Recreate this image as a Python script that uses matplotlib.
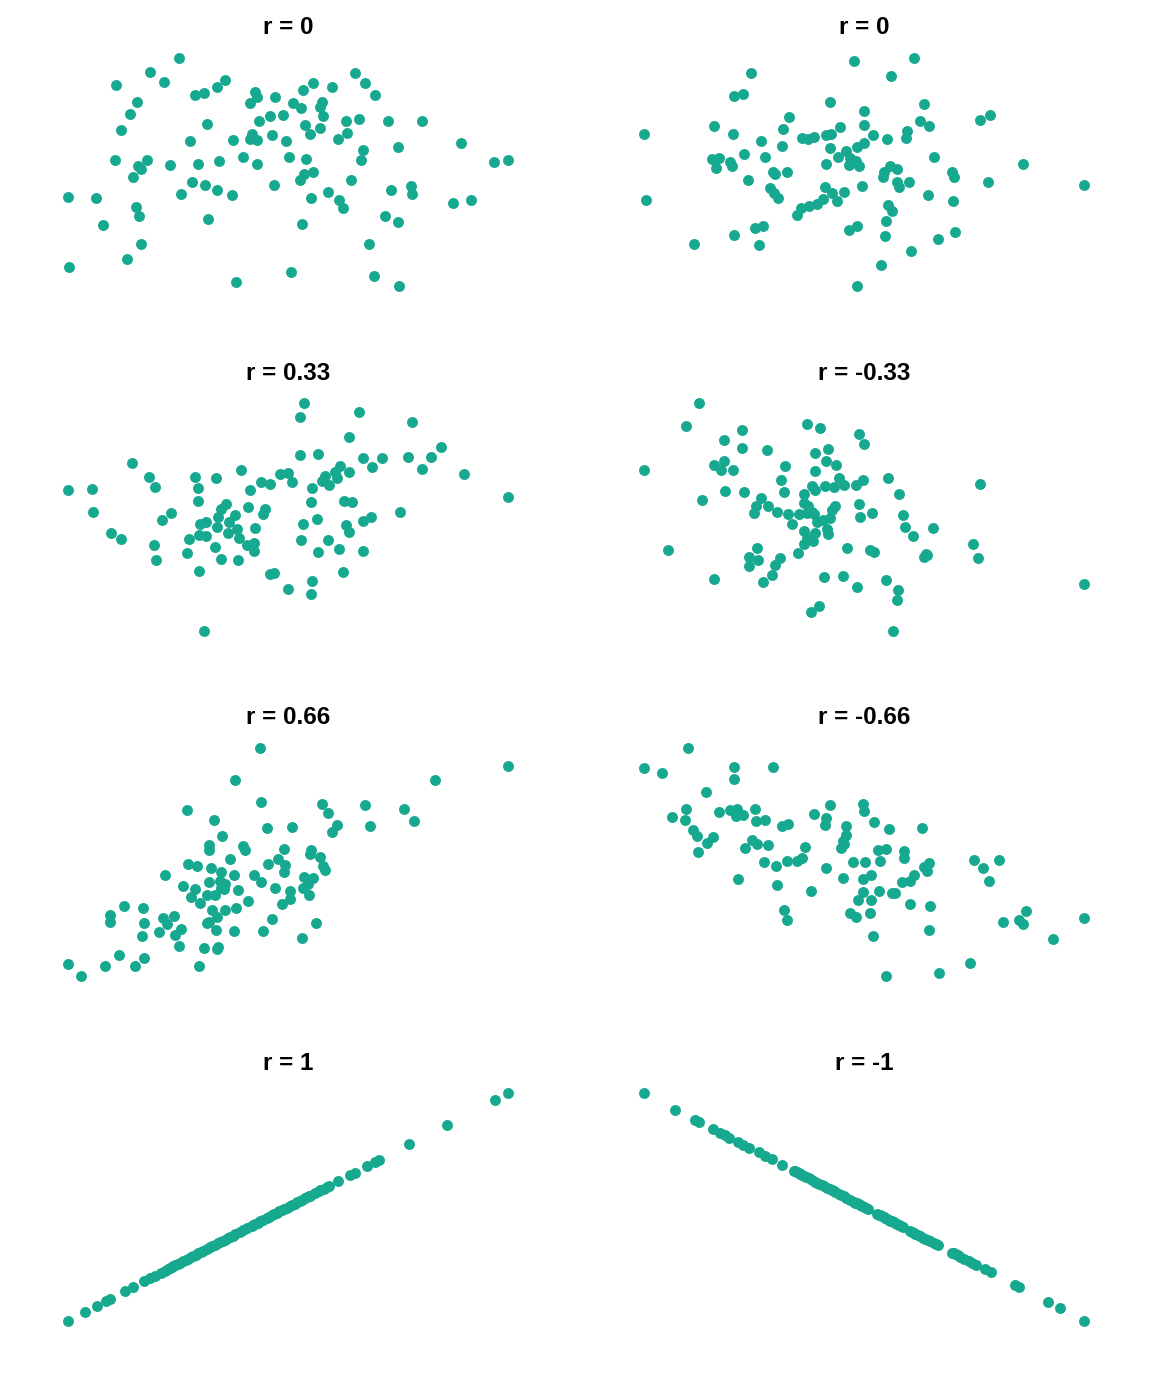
import matplotlib
matplotlib.use("Agg")
import matplotlib.pyplot as plt

plt.rcParams['font.family'] = ['Liberation Sans', 'DejaVu Sans']

point_color = '#17a98f'

titles = ['r = 0', 'r = 0', 'r = 0.33', 'r = -0.33',
          'r = 0.66', 'r = -0.66', 'r = 1', 'r = -1']

# values (screen units, y grows downward)
x_r0_a = [370, 284, 327, 183, 509, 485, 447, 419, 245, 224, 198, 455, 404, 533, 599, 605, 585, 658, 743, 774,
          831, 900, 929, 958, 712, 737, 801, 793, 803, 643, 684, 611, 748, 765, 795, 871, 910, 997, 1099, 874,
          849, 589, 585, 605, 651, 691, 1027, 1217, 923, 917, 1314, 1357, 181, 277, 249, 259, 234, 345, 429, 490,
          562, 604, 701, 753, 772, 745, 734, 887, 410, 448, 484, 531, 376, 655, 819, 767, 851, 864, 1006, 1065,
          1068, 1193, 1245, 39, 122, 243, 252, 143, 457, 740, 988, 1028, 258, 216, 42, 541, 707, 940, 956, 1030]
y_r0_a = [42, 82, 114, 122, 107, 127, 146, 152, 172, 207, 256, 237, 288, 285, 143, 158, 174, 156, 136, 116,
          126, 86, 115, 152, 176, 190, 172, 188, 213, 215, 210, 230, 240, 267, 250, 228, 223, 228, 230, 265,
          282, 268, 283, 285, 272, 290, 307, 293, 316, 344, 351, 346, 346, 344, 362, 372, 395, 359, 357, 348,
          335, 356, 337, 341, 380, 388, 405, 406, 412, 420, 436, 450, 447, 421, 441, 459, 466, 489, 434, 424,
          446, 473, 464, 456, 460, 484, 512, 539, 521, 536, 513, 530, 596, 642, 665, 710, 678, 597, 691, 720]

x_r0_b = [672, 851, 364, 781, 313, 340, 600, 880, 702, 475, 1049, 1078, 251, 458, 308, 42, 702, 630, 870, 897,
          829, 828, 771, 728, 702, 679, 586, 602, 515, 533, 550, 392, 455, 599, 343, 404, 245, 266, 258, 300,
          307, 647, 624, 660, 676, 686, 655, 587, 910, 1177, 428, 434, 471, 353, 779, 800, 762, 757, 799, 806,
          836, 964, 970, 1072, 1360, 694, 419, 430, 443, 584, 605, 641, 621, 578, 561, 537, 512, 500, 47, 894,
          969, 772, 784, 768, 681, 656, 399, 373, 311, 191, 385, 765, 974, 923, 841, 753, 679]
y_r0_b = [49, 42, 87, 95, 154, 148, 173, 178, 200, 216, 225, 212, 244, 253, 267, 268, 240, 247, 230, 245,
          259, 280, 282, 271, 294, 307, 270, 268, 280, 282, 278, 289, 302, 310, 327, 335, 343, 338, 368, 350,
          363, 318, 337, 340, 348, 363, 360, 358, 337, 358, 382, 386, 380, 406, 363, 372, 380, 397, 410, 427,
          410, 380, 396, 411, 421, 422, 428, 443, 460, 425, 443, 442, 469, 461, 475, 483, 487, 508, 466, 450,
          467, 478, 497, 527, 541, 554, 543, 549, 568, 597, 599, 571, 560, 581, 618, 658, 720]

x_r033 = [746, 733, 912, 1069, 880, 1157, 1126, 1058, 1099, 1224, 1357, 979, 922, 950, 734, 788, 557, 232, 282, 299,
          39, 110, 113, 168, 197, 420, 481, 429, 428, 584, 616, 643, 673, 698, 709, 771, 768, 810, 800, 820,
          838, 855, 845, 881, 866, 891, 1032, 347, 322, 513, 498, 488, 577, 628, 624, 538, 521, 484, 452, 434,
          518, 546, 550, 432, 452, 400, 598, 744, 786, 923, 946, 873, 881, 298, 303, 396, 479, 498, 549, 574,
          596, 597, 736, 818, 851, 787, 923, 432, 645, 656, 862, 771, 697, 768, 446]
y_r033 = [44, 84, 71, 101, 145, 173, 204, 204, 241, 254, 324, 206, 208, 234, 197, 194, 242, 223, 265, 293,
          303, 300, 369, 431, 450, 265, 268, 297, 336, 302, 280, 284, 255, 253, 279, 296, 338, 260, 277, 289,
          250, 230, 267, 249, 335, 337, 368, 370, 393, 343, 358, 382, 353, 360, 375, 376, 398, 414, 397, 405,
          430, 420, 447, 436, 441, 448, 415, 403, 390, 396, 382, 407, 427, 468, 510, 489, 472, 507, 512, 466,
          462, 485, 451, 453, 477, 487, 485, 545, 554, 550, 546, 573, 598, 613, 722]

x_rm033 = [207, 168, 336, 283, 335, 409, 529, 568, 685, 702, 553, 594, 588, 617, 555, 463, 452, 460, 252, 282,
           274, 310, 42, 285, 343, 217, 393, 376, 413, 372, 441, 473, 505, 486, 522, 520, 534, 545, 550, 530,
           546, 555, 585, 610, 626, 640, 678, 697, 774, 806, 1047, 685, 690, 726, 614, 605, 600, 577, 561, 589,
           593, 522, 553, 530, 549, 521, 504, 819, 825, 848, 908, 650, 718, 730, 886, 882, 891, 1028, 1042, 113,
           380, 356, 384, 357, 450, 435, 424, 398, 251, 580, 639, 681, 767, 802, 801, 567, 542, 1360, 788]
y_rm033 = [44, 113, 124, 154, 178, 183, 106, 117, 136, 165, 192, 180, 215, 227, 245, 232, 273, 309, 228, 215,
           242, 244, 243, 304, 308, 332, 325, 350, 351, 372, 369, 373, 373, 403, 314, 340, 350, 368, 375, 372,
           290, 302, 291, 293, 268, 288, 288, 272, 268, 315, 286, 343, 383, 371, 350, 363, 386, 392, 399, 420,
           434, 425, 430, 447, 455, 463, 490, 376, 414, 441, 416, 474, 481, 488, 493, 503, 497, 464, 506, 480,
           475, 502, 510, 528, 506, 527, 556, 578, 568, 561, 559, 593, 571, 602, 632, 648, 665, 583, 722]

x_r066 = [615, 1357, 539, 1137, 618, 394, 475, 799, 816, 928, 1045, 1076, 843, 828, 942, 634, 709, 499, 461, 461,
          564, 569, 685, 767, 762, 792, 801, 807, 523, 669, 690, 686, 637, 399, 424, 468, 497, 536, 330, 462,
          494, 510, 497, 506, 597, 616, 660, 745, 773, 758, 742, 759, 703, 703, 680, 549, 577, 383, 418, 408,
          434, 454, 478, 470, 510, 541, 207, 262, 165, 165, 266, 324, 357, 335, 376, 312, 359, 260, 454, 462,
          486, 483, 535, 622, 650, 782, 740, 371, 446, 487, 484, 190, 267, 38, 150, 239, 432, 76]
y_r066 = [45, 97, 140, 139, 205, 229, 260, 211, 239, 214, 227, 262, 275, 296, 277, 283, 279, 307, 335, 348,
          337, 349, 347, 348, 360, 371, 395, 409, 375, 376, 392, 413, 390, 391, 396, 401, 414, 423, 424, 444,
          440, 450, 462, 465, 424, 443, 462, 430, 432, 449, 462, 484, 471, 494, 510, 468, 501, 456, 464, 490,
          507, 484, 483, 528, 529, 522, 517, 521, 543, 563, 568, 551, 546, 571, 586, 595, 604, 605, 568, 565,
          548, 588, 591, 591, 556, 568, 612, 636, 642, 638, 643, 661, 672, 689, 694, 696, 694, 724]

x_rm066 = [174, 42, 96, 312, 313, 428, 229, 167, 127, 164, 266, 299, 320, 318, 340, 374, 378, 405, 189, 202,
           248, 230, 204, 367, 380, 412, 345, 402, 438, 469, 500, 516, 523, 455, 474, 550, 598, 588, 583, 699,
           702, 732, 648, 647, 638, 642, 633, 777, 875, 744, 767, 820, 820, 749, 669, 705, 586, 637, 699, 722,
           323, 440, 541, 698, 745, 683, 723, 784, 795, 814, 838, 852, 880, 897, 890, 839, 898, 1030, 1057, 1106,
           1075, 460, 470, 660, 676, 718, 728, 895, 1118, 1165, 1176, 1187, 1266, 1360, 1019, 927, 766]
y_rm066 = [45, 105, 118, 102, 135, 100, 174, 225, 251, 258, 235, 228, 225, 248, 244, 227, 262, 259, 289, 306,
           310, 328, 353, 317, 330, 334, 342, 383, 396, 382, 381, 373, 339, 276, 272, 240, 214, 254, 274, 212,
           233, 264, 276, 302, 320, 330, 342, 287, 284, 347, 344, 350, 371, 382, 384, 384, 403, 432, 436, 422,
           434, 454, 470, 474, 472, 498, 496, 476, 476, 443, 440, 423, 400, 387, 411, 508, 516, 379, 401, 379,
           442, 527, 558, 535, 549, 537, 604, 587, 564, 557, 568, 530, 615, 552, 685, 716, 723]

x_r1 = [40, 90, 126, 155, 165, 210, 235, 267, 285, 300, 318, 330, 340, 345, 350, 355, 360, 370, 375, 385,
        392, 400, 408, 415, 422, 430, 438, 445, 455, 465, 470, 480, 488, 495, 503, 510, 518, 525, 533, 540,
        555, 565, 575, 590, 595, 600, 608, 615, 625, 635, 643, 650, 658, 665, 673, 680, 688, 695, 703, 710,
        718, 725, 733, 740, 748, 755, 760, 765, 780, 790, 795, 805, 815, 820, 847, 885, 898, 935, 960, 972,
        1062, 1173, 1318, 1357]
y_r1 = [725, 699.3, 680.7, 665.8, 660.6, 637.5, 624.6, 608.1, 598.9, 591.2, 581.9, 575.7, 570.6, 568.0, 565.4,
        562.8, 560.3, 555.1, 552.5, 547.4, 543.8, 539.7, 535.6, 531.9, 528.3, 524.2, 520.1, 516.5, 511.4, 506.2,
        503.6, 498.5, 494.4, 490.8, 486.6, 483.0, 478.9, 475.3, 471.2, 467.6, 459.9, 454.7, 449.6, 441.9, 439.3,
        436.7, 432.6, 429.0, 423.8, 418.7, 414.6, 411.0, 406.9, 403.2, 399.1, 395.5, 391.4, 387.8, 383.7, 380.1,
        376.0, 372.4, 368.2, 364.6, 360.5, 356.9, 354.3, 351.8, 344.0, 338.9, 336.3, 331.2, 326.0, 323.5, 309.6,
        290.0, 283.3, 264.3, 251.4, 245.2, 198.9, 141.7, 67.1, 47]

x_rm1 = [42, 136, 196, 206, 250, 270, 285, 298, 325, 340, 356, 385, 405, 425, 455, 490, 495, 500, 505, 510,
         515, 520, 528, 535, 545, 555, 560, 565, 575, 582, 590, 598, 605, 610, 615, 625, 632, 640, 648, 660,
         670, 675, 680, 685, 690, 695, 700, 706, 712, 740, 745, 750, 755, 760, 765, 770, 775, 780, 785, 790,
         795, 800, 805, 812, 818, 840, 845, 850, 855, 862, 870, 878, 885, 892, 900, 910, 916, 922, 965, 970,
         975, 982, 990, 1000, 1015, 1025, 1035, 1062, 1080, 1152, 1165, 1251, 1289, 1360]
y_rm1 = [47, 95.4, 126.2, 131.4, 154.0, 164.3, 172.0, 178.7, 192.6, 200.3, 208.5, 223.4, 233.7, 244.0, 259.4,
         277.5, 280.0, 282.6, 285.2, 287.7, 290.3, 292.9, 297.0, 300.6, 305.7, 310.9, 313.5, 316.0, 321.2, 324.8,
         328.9, 333.0, 336.6, 339.2, 341.8, 346.9, 350.5, 354.6, 358.7, 364.9, 370.0, 372.6, 375.2, 377.8, 380.3,
         382.9, 385.5, 388.6, 391.6, 406.1, 408.6, 411.2, 413.8, 416.3, 418.9, 421.5, 424.1, 426.6, 429.2, 431.8,
         434.3, 436.9, 439.5, 443.1, 446.2, 457.5, 460.1, 462.6, 465.2, 468.8, 472.9, 477.0, 480.6, 484.2, 488.4,
         493.5, 496.6, 499.7, 521.8, 524.4, 526.9, 530.5, 534.7, 539.8, 547.5, 552.7, 557.8, 571.7, 581.0, 618.0,
         624.7, 668.9, 688.5, 725]

panels = [(x_r0_a, y_r0_a), (x_r0_b, y_r0_b), (x_r033, y_r033), (x_rm033, y_rm033),
          (x_r066, y_r066), (x_rm066, y_rm066), (x_r1, y_r1), (x_rm1, y_rm1)]

fig = plt.figure(figsize=(11.52, 13.82), dpi=100)
W, H = 1152, 1382

for i, ((xs, ys), title) in enumerate(zip(panels, titles)):
    row, col = divmod(i, 2)
    left = 46 if col == 0 else 622
    top = 47 + 345 * row
    ax = fig.add_axes([left / W, 1 - (top + 250) / H, 484 / W, 250 / H])
    ax.scatter(xs, ys, s=62, color=point_color, linewidths=0)
    ax.margins(0.05)
    ax.invert_yaxis()
    ax.set_axis_off()
    ax.set_title(title, fontsize=17.5, fontweight='bold', pad=9)

fig.savefig('out.png', dpi=100)
